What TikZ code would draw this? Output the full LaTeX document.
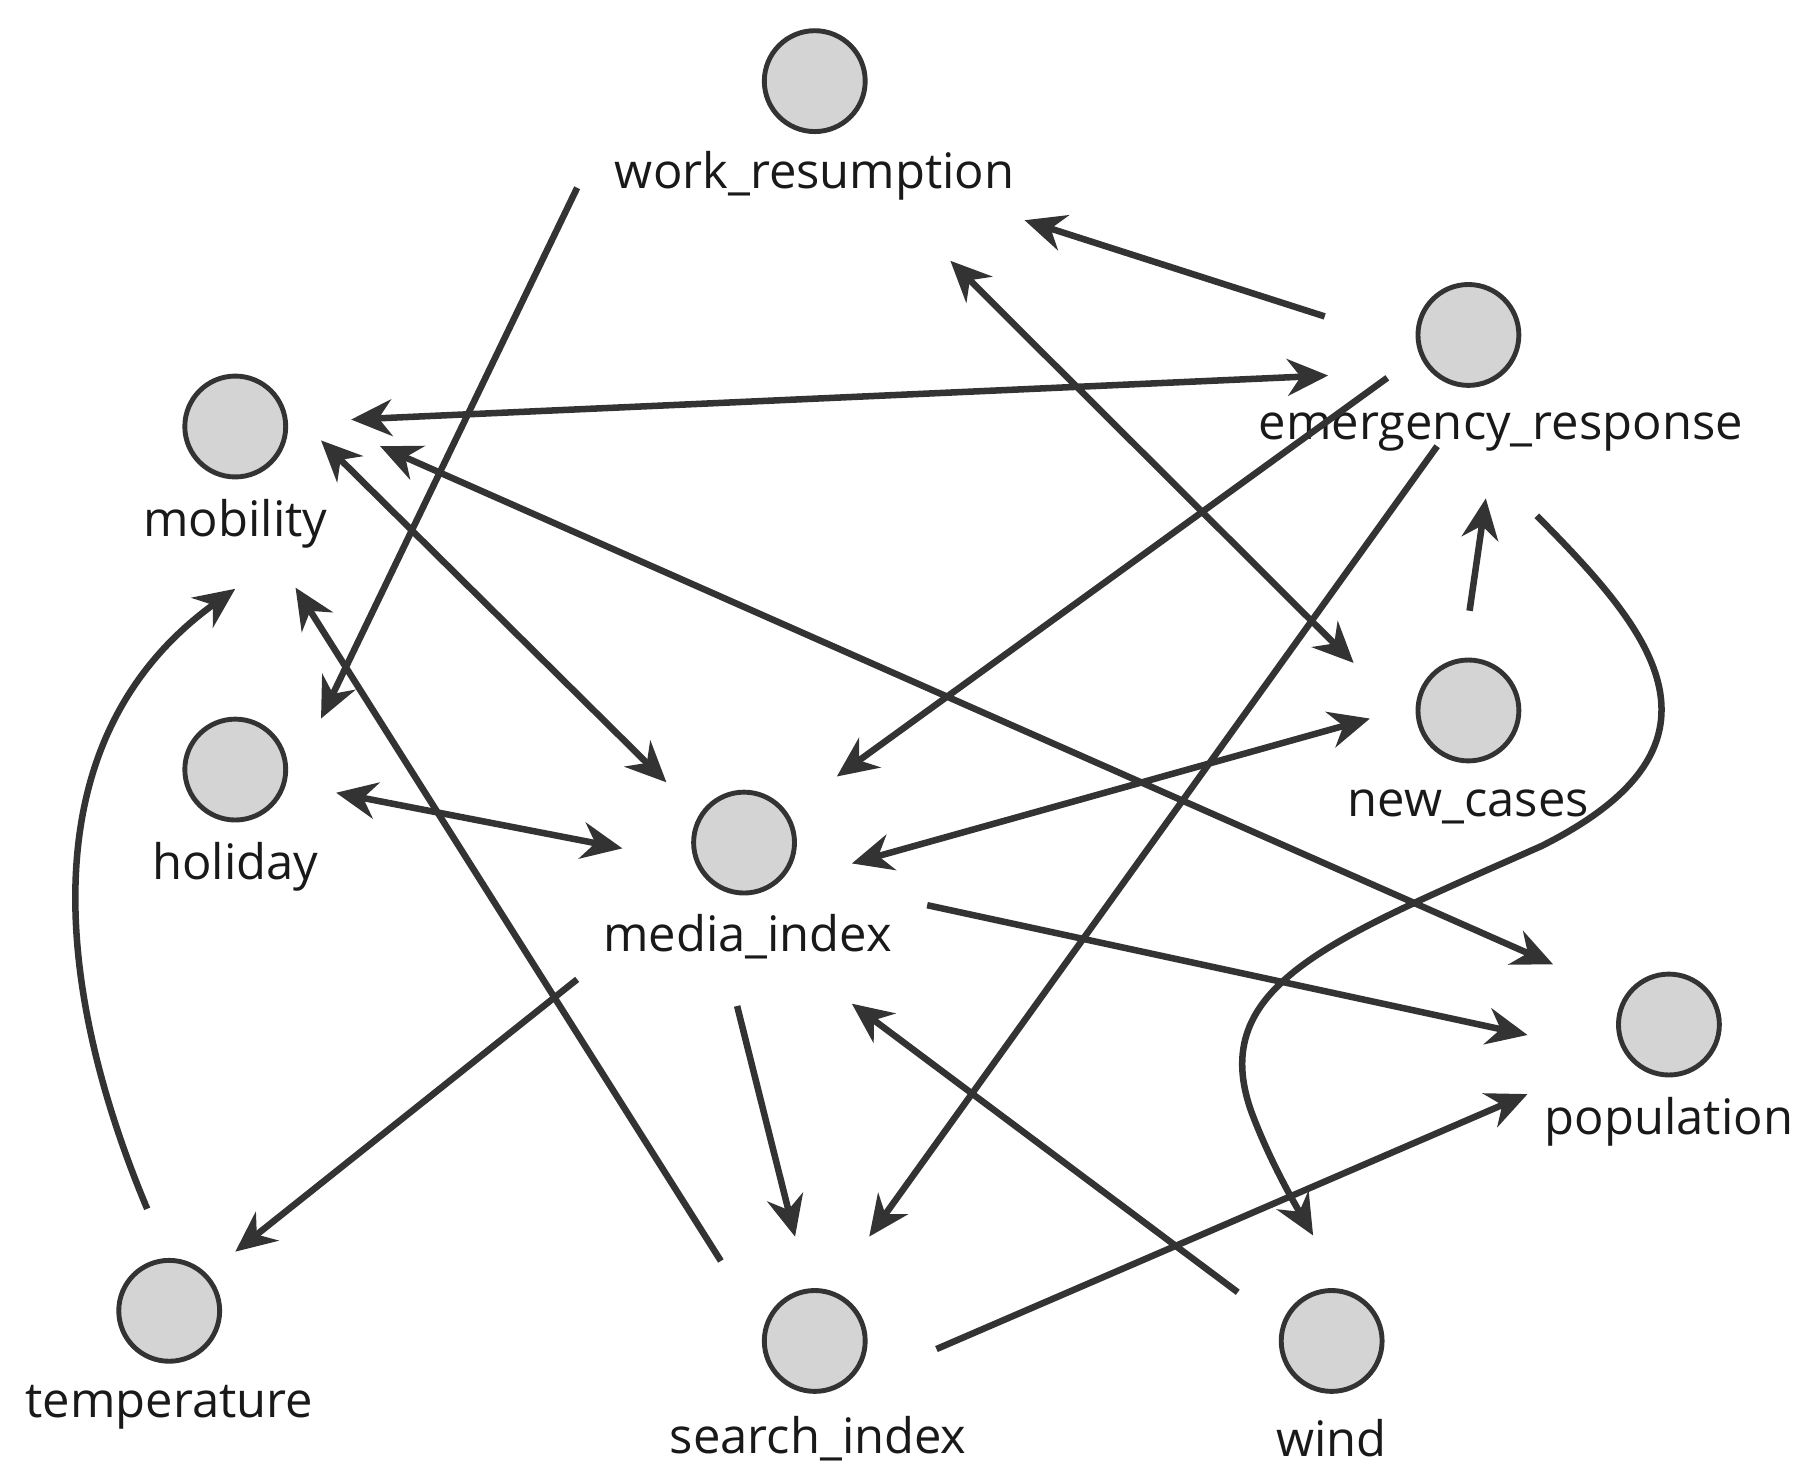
\documentclass[tikz,border=0pt]{standalone}
\usepackage{fontspec}
\setmainfont{Open Sans}
\begin{document}
\begin{tikzpicture}[x=0.01cm,y=-0.01cm,
  var/.style={circle,draw=black!80,fill=black!17,line width=1.2pt,minimum size=0.87cm,inner sep=0},
  lab/.style={font=\fontsize{12}{14}\selectfont,text=black!90},
  e/.style={line width=1.6pt,draw=black!80,-{Stealth[length=10pt,width=9pt]}},
  b/.style={line width=1.6pt,draw=black!80,{Stealth[length=10pt,width=9pt]}-{Stealth[length=10pt,width=9pt]}}]
\usetikzlibrary{arrows.meta}
\useasboundingbox (0,0) rectangle (1560,1275);
\node[var] (wr) at (703,70) {}; \node[lab] (wrl) at (703,152) {work\_resumption};
\node[var] (er) at (1267,289) {}; \node[lab] (erl) at (1295,373) {emergency\_response};
\node[var] (mo) at (203,368) {}; \node[lab] (mol) at (203,452) {mobility};
\node[var] (nc) at (1267,613) {}; \node[lab] (ncl) at (1267,696) {new\_cases};
\node[var] (ho) at (203,664) {}; \node[lab] (hol) at (203,748) {holiday};
\node[var] (me) at (642,727) {}; \node[lab] (mel) at (645,808) {media\_index};
\node[var] (po) at (1440,884) {}; \node[lab] (pol) at (1440,968) {population};
\node[var] (te) at (146,1131) {}; \node[lab] (tel) at (146,1214) {temperature};
\node[var] (si) at (703,1157) {}; \node[lab] (sil) at (706,1241) {search\_index};
\node[var] (wi) at (1149,1157) {}; \node[lab] (wil) at (1149,1241) {wind};
\coordinate (a1) at (1143,273); \coordinate (a2) at (884,190);
\coordinate (b1) at (498,162); \coordinate (b2) at (277,620);
\coordinate (c1) at (303,362); \coordinate (c2) at (1146,324);
\coordinate (d1) at (820,225); \coordinate (d2) at (1168,572);
\coordinate (f1) at (277,380); \coordinate (f2) at (575,675);
\coordinate (g1) at (1197,326); \coordinate (g2) at (722,670);
\coordinate (h1) at (1240,385); \coordinate (h2) at (750,1067);
\coordinate (i1) at (328,385); \coordinate (i2) at (1340,832);
\coordinate (j1) at (1268,527); \coordinate (j2) at (1282,430);
\coordinate (k1) at (1326,445); \coordinate (k2) at (1133,1066);
\coordinate (l1) at (290,684); \coordinate (l2) at (537,732);
\coordinate (m1) at (1182,620); \coordinate (m2) at (735,745);
\coordinate (n1) at (800,781); \coordinate (n2) at (1318,893);
\coordinate (o1) at (498,845); \coordinate (o2) at (203,1080);
\coordinate (p1) at (636,868); \coordinate (p2) at (686,1067);
\coordinate (q1) at (1068,1115); \coordinate (q2) at (735,866);
\coordinate (r1) at (808,1164); \coordinate (r2) at (1318,944);
\coordinate (s1) at (127,1043); \coordinate (s2) at (203,508);
\coordinate (t1) at (622,1088); \coordinate (t2) at (255,507);
\draw[e] (a1) -- (a2);
\draw[e] (b1) -- (b2);
\draw[b] (c1) -- (c2);
\draw[b] (d1) -- (d2);
\draw[b] (f1) -- (f2);
\draw[e] (g1) -- (g2);
\draw[e] (h1) -- (h2);
\draw[b] (i1) -- (i2);
\draw[e] (j1) -- (j2);
\draw[e] (k1) .. controls (1420,540) and (1510,640) .. (1330,730) .. controls (1150,810) and (1040,850) .. (1080,960) .. controls (1095,1000) and (1115,1035) .. (k2);
\draw[b] (l1) -- (l2);
\draw[b] (m1) -- (m2);
\draw[e] (n1) -- (n2);
\draw[e] (o1) -- (o2);
\draw[e] (p1) -- (p2);
\draw[e] (q1) -- (q2);
\draw[e] (r1) -- (r2);
\draw[e] (s1) .. controls (50,860) and (20,640) .. (s2);
\draw[e] (t1) -- (t2);
\end{tikzpicture}
\end{document}
